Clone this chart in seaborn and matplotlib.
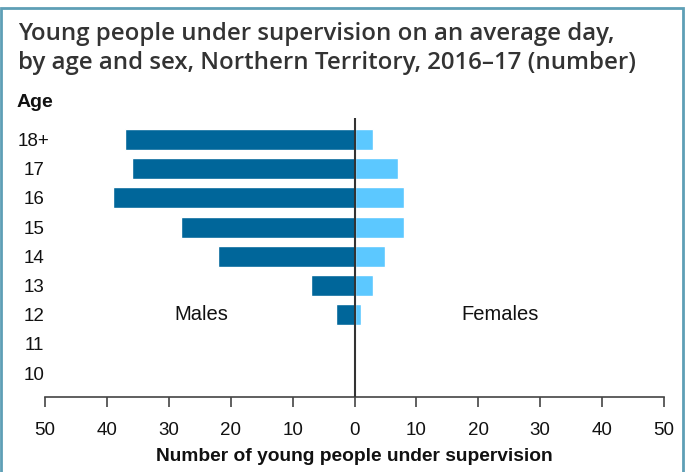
import numpy as np
import pandas as pd
import matplotlib
matplotlib.use("Agg")
import matplotlib.pyplot as plt
import seaborn as sns
from matplotlib.patches import Rectangle

# data
ages = ["18+", "17", "16", "15", "14", "13", "12", "11", "10"]
males = [37, 36, 39, 28, 22, 7, 3, 0, 0]
females = [3, 7, 8, 8, 5, 3, 1, 0, 0]
xticks = [-50, -40, -30, -20, -10, 0, 10, 20, 30, 40, 50]

MALE_COL = "#00669A"
FEMALE_COL = "#5CC8FF"

df = pd.concat([
    pd.DataFrame({"age": ages, "value": [-v for v in males], "sex": "Males"}),
    pd.DataFrame({"age": ages, "value": females, "sex": "Females"}),
], ignore_index=True)

sns.set_theme(style="white")
plt.rcParams["font.family"] = ["Liberation Sans", "DejaVu Sans"]

W, H = 693, 472
fig = plt.figure(figsize=(W / 100, H / 100), dpi=100)
ax = fig.add_axes([45 / W, 1 - 397 / H, (664 - 45) / W, (397 - 118) / H])

sns.barplot(data=df, y="age", x="value", hue="sex", order=ages, dodge=False,
            palette={"Males": MALE_COL, "Females": FEMALE_COL}, width=0.72,
            orient="h", legend=False, ax=ax, saturation=1)

ax.axvline(0, color="#333333", lw=1.5, zorder=5)
ax.set_xlim(-50, 50)
ax.set_ylim(8.82, -0.736)
ax.set_xticks(xticks)
ax.set_xticklabels([str(abs(t)) for t in xticks], fontsize=13.5, color="#111111")
ax.tick_params(axis="x", bottom=True, direction="out", length=7.2, width=1.2,
               color="#444444", pad=10.5)
ax.tick_params(axis="y", left=False, length=0, pad=8, labelsize=13.5,
               labelcolor="#111111")
for lab in ax.get_yticklabels():
    lab.set_horizontalalignment("center")
ax.set_ylabel("")
ax.set_xlabel("Number of young people under supervision", fontsize=13.8,
              fontweight="bold", color="#111111", labelpad=7)
for s in ["left", "right", "top"]:
    ax.spines[s].set_visible(False)
ax.spines["bottom"].set_color("#444444")
ax.spines["bottom"].set_linewidth(1.2)

ax.text(-24.8, 6, "Males", ha="center", va="center", fontsize=14.5, color="#111111")
ax.text(23.5, 6, "Females", ha="center", va="center", fontsize=14.5, color="#111111")

# title and axis caption
fig.text(18 / W, 1 - 40 / H, "Young people under supervision on an average day,",
         family="Open Sans", fontsize=17.3, fontweight="semibold", color="#333333",
         va="baseline")
fig.text(18 / W, 1 - 69 / H, "by age and sex, Northern Territory, 2016\u201317 (number)",
         family="Open Sans", fontsize=17.3, fontweight="semibold", color="#333333",
         va="baseline")
fig.text(17 / W, 1 - 107 / H, "Age", fontsize=14, fontweight="bold",
         color="#111111", va="baseline")

# teal frame around the panel
fig.patches.append(Rectangle((1 / W, -0.05), 682 / W, 1.05 - 8 / H,
                             transform=fig.transFigure, fill=False,
                             edgecolor="#5E9FB6", lw=2))

fig.savefig("out.png", dpi=100)
